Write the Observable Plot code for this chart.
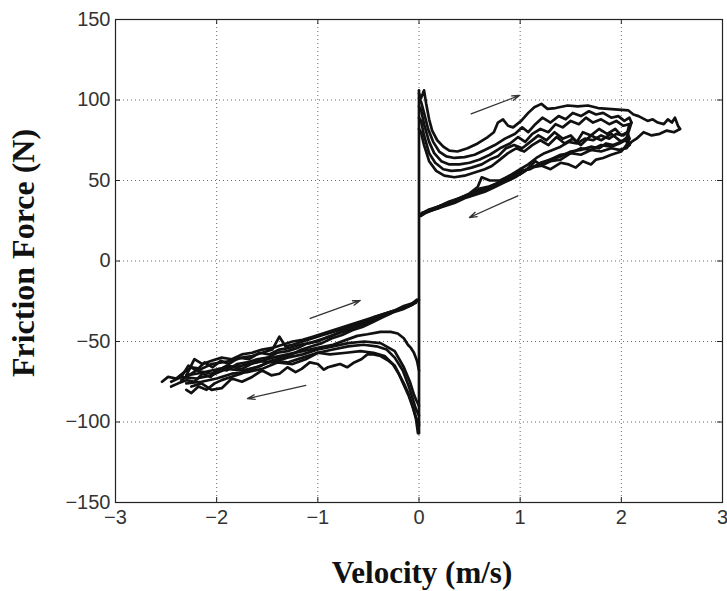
<!DOCTYPE html>
<html><head><meta charset="utf-8">
<script src="https://cdn.jsdelivr.net/npm/d3@7"></script>
<script src="https://cdn.jsdelivr.net/npm/@observablehq/plot@0.6"></script>
<style>body{margin:0;background:#fff}</style>
</head><body><div id="chart"></div>
<script>
// Tick values
const xTicks = [-3, -2, -1, 0, 1, 2, 3];
const yTicks = [-150, -100, -50, 0, 50, 100, 150];

// Stick-slip jump at zero velocity
const jumpV = [0, 0];
const jumpF = [106, -107];

// Positive velocity, accelerating branches
const up1V = [0,0.02,0.05,0.07,0.10,0.13,0.18,0.24,0.30,0.38,0.48,0.58,0.68,0.74,0.78,0.83,0.88,0.93,1.01,1.08,1.14,1.21,1.27,1.35,1.47,1.57,1.67,1.77,1.87,1.97,2.07,2.12,2.17,2.26,2.31,2.36,2.42,2.46,2.50,2.53,2.56,2.58];
const up1F = [104,101,106,98,88,81,75,71,68.5,68,70,73,77,80,86,88,84,83,87,92,95.5,97.6,94.5,95,96.6,96,96.6,95,94.5,94,93.5,91,90,87,88,86,85,88,86,89,84,82];
const up2V = [0,0.02,0.05,0.09,0.14,0.20,0.27,0.35,0.45,0.55,0.65,0.75,0.85,0.95,1.02,1.08,1.15,1.22,1.30,1.38,1.45,1.52,1.60,1.68,1.75,1.82,1.90,1.97,2.03,2.08,2.10];
const up2F = [101,99,92,82,74,68,65,64,64.5,66,69,72,76,79,83,80,85,89,86,90,88,92,90,93,91,92,89,90,87,89,86];
const up3V = [0,0.02,0.05,0.10,0.15,0.22,0.30,0.40,0.50,0.60,0.70,0.80,0.90,0.98,1.05,1.12,1.20,1.28,1.35,1.42,1.50,1.58,1.65,1.72,1.80,1.88,1.95,2.02,2.08];
const up3F = [96,94,85,74,67,62,60,60,61,63,66,70,73,77,74,79,82,80,85,83,87,85,89,86,88,85,87,84,85];
const up4V = [0,0.02,0.05,0.10,0.16,0.24,0.32,0.42,0.52,0.62,0.70,0.78,0.86,0.94,1.02,1.10,1.18,1.26,1.34,1.42,1.50,1.56,1.62,1.70,1.78,1.86,1.94,2.00,2.06,2.08];
const up4F = [89,87,78,67,61,57,56,56.5,58,60,63,65,70,72,70,74,78,75,80,76,78,74,80,78,82,79,82,78,80,76];
const up5V = [0,0.02,0.05,0.10,0.17,0.25,0.35,0.45,0.55,0.65,0.72,0.80,0.88,0.96,1.04,1.12,1.20,1.28,1.36,1.44,1.52,1.60,1.70,1.80,1.90,2.00,2.06,2.08];
const up5F = [82,80,72,62,56,53,52,53,55,57,59,63,67,70,68,72,75,72,77,73,76,72,78,75,79,74,77,72];

// Positive velocity, decelerating branches
const dn1V = [2.10,2.08,2.05,2.00,1.92,1.85,1.78,1.70,1.60,1.50,1.40,1.30,1.20,1.10,1.00,0.90,0.80,0.70,0.60,0.50,0.40,0.30,0.20,0.10,0.04,0.01];
const dn1F = [86,82,76,74,72,73,70,71,69,68,65,63,60,58,55,52,49,46,44,41,39,36,34,32,30,28];
const dn2V = [2.08,2.06,2.02,1.95,1.88,1.80,1.72,1.64,1.56,1.48,1.40,1.32,1.24,1.16,1.08,1.00,0.92,0.84,0.76,0.68,0.60,0.52,0.44,0.36,0.28,0.20,0.12,0.05,0.01];
const dn2F = [85,80,78,79,76,78,75,76,73,74,71,69,67,64,60,57,54,51,48,46,45,42,40,38,36,34,32,30,29];
const dn3V = [2.08,2.05,2.00,1.90,1.82,1.75,1.70,1.62,1.55,1.48,1.40,1.30,1.22,1.15,1.05,0.95,0.85,0.75,0.65,0.55,0.45,0.35,0.25,0.15,0.07,0.02];
const dn3F = [76,72,68,66,64,63,60,62,58,60,61,57,59,62,56,52,49,46,43,41,39,36,34,32,30,28];
const dn4V = [2.08,2.04,1.98,1.90,1.80,1.70,1.60,1.50,1.40,1.30,1.20,1.10,1.00,0.90,0.80,0.70,0.60,0.50,0.40,0.30,0.20,0.10,0.03];
const dn4F = [72,75,73,71,72,69,70,67,66,63,61,57,56,51,48,46,43,41,38,36,33,31,29];
const dn5V = [2.58,2.52,2.45,2.38,2.30,2.22,2.15,2.10,2.05,1.98,1.90,1.80,1.70,1.60,1.50,1.40,1.30,1.20,1.10,1.00,0.90,0.80,0.70,0.62,0.58,0.50,0.40,0.30,0.20,0.10,0.03];
const dn5F = [82,80,81,79,78,80,76,74,70,69,70,68,69,66,67,63,62,59,58,54,53,50,50,52,46,42,39,37,34,31,30];

// Negative velocity, accelerating branches
const lo1V = [0,-0.02,-0.05,-0.08,-0.11,-0.15,-0.21,-0.28,-0.38,-0.51,-0.61,-0.72,-0.85,-1.0,-1.15,-1.3,-1.45,-1.6,-1.75,-1.9,-2.05,-2.2,-2.3];
const lo1F = [-68,-62,-57,-54,-52,-48,-45,-44,-44,-45.5,-46.5,-49,-52,-54,-56,-58,-60,-63,-65,-66,-68,-70,-71];
const lo2V = [0,-0.03,-0.05,-0.09,-0.15,-0.24,-0.38,-0.54,-0.70,-0.85,-1.0,-1.15,-1.3,-1.45,-1.6,-1.75,-1.9,-2.05,-2.2,-2.35];
const lo2F = [-90,-86,-83,-75,-66,-56,-51,-50,-51,-53,-55,-58,-60,-63,-62,-67,-65,-70,-68,-74];
const lo3V = [0,-0.03,-0.06,-0.10,-0.16,-0.24,-0.32,-0.42,-0.55,-0.70,-0.85,-1.0,-1.15,-1.3,-1.45,-1.6,-1.75,-1.9,-2.05,-2.2,-2.35,-2.45];
const lo3F = [-96,-92,-86,-78,-68,-60,-55,-53,-52,-53,-55,-57,-60,-63,-62,-66,-68,-67,-71,-73,-72,-75];
const lo4V = [0,-0.03,-0.06,-0.10,-0.15,-0.20,-0.26,-0.34,-0.45,-0.58,-0.72,-0.88,-1.0,-1.12,-1.25,-1.4,-1.55,-1.7,-1.85,-2.0,-2.15,-2.3];
const lo4F = [-102,-97,-91,-83,-76,-70,-64,-59,-57,-56,-57,-58,-57,-61,-64,-63,-67,-69,-70,-73,-75,-76];
const lo5V = [0,-0.01,-0.03,-0.06,-0.10,-0.15,-0.20,-0.24,-0.30,-0.38,-0.45,-0.51,-0.57,-0.64,-0.71,-0.78,-0.84,-0.90,-0.94,-1.00,-1.08,-1.16,-1.22,-1.30,-1.38,-1.46,-1.55,-1.65,-1.75,-1.85,-1.95,-2.05,-2.15,-2.25];
const lo5F = [-100,-107,-98,-91,-84,-77,-70,-65,-62,-59,-58,-58,-61,-63,-66,-64,-65,-66,-67.5,-64,-63,-67,-69,-66,-70,-71,-68,-72,-75,-73,-79,-80,-76,-78];

// Negative velocity, decelerating branches
const ret1V = [-2.54,-2.48,-2.40,-2.32,-2.25,-2.15,-2.05,-1.95,-1.85,-1.75,-1.65,-1.55,-1.45,-1.38,-1.35,-1.32,-1.25,-1.15,-1.05,-0.95,-0.85,-0.75,-0.65,-0.55,-0.45,-0.35,-0.25,-0.15,-0.08,-0.02,0];
const ret1F = [-75,-72,-73,-69,-66,-67,-64,-63,-62,-60,-59,-57,-55,-47,-50,-53,-52,-50,-48,-46,-44,-42,-40,-38,-35,-33,-31,-29,-27,-25,-24];
const ret2V = [-2.45,-2.38,-2.30,-2.22,-2.14,-2.06,-1.98,-1.90,-1.80,-1.70,-1.60,-1.50,-1.40,-1.30,-1.20,-1.10,-1.00,-0.90,-0.80,-0.70,-0.60,-0.50,-0.40,-0.30,-0.20,-0.10,-0.03];
const ret2F = [-78,-76,-74,-75,-70,-72,-67,-68,-64,-63,-61,-60,-57,-56,-54,-51,-50,-47,-45,-43,-40,-38,-35,-33,-30,-28,-26];
const ret3V = [-2.35,-2.28,-2.20,-2.12,-2.04,-1.96,-1.88,-1.78,-1.68,-1.58,-1.48,-1.38,-1.28,-1.18,-1.08,-0.98,-0.88,-0.78,-0.68,-0.58,-0.48,-0.38,-0.28,-0.18,-0.08,-0.02];
const ret3F = [-72,-65,-68,-63,-66,-62,-64,-60,-61,-57,-58,-55,-54,-52,-51,-49,-47,-44,-42,-40,-37,-34,-32,-30,-27,-24];
const ret4V = [-2.3,-2.25,-2.18,-2.10,-2.02,-1.95,-1.86,-1.76,-1.66,-1.56,-1.46,-1.36,-1.26,-1.16,-1.06,-0.96,-0.86,-0.76,-0.66,-0.56,-0.46,-0.36,-0.26,-0.16,-0.06];
const ret4F = [-80,-82,-78,-80,-76,-74,-72,-70,-67,-65,-62,-60,-58,-55,-53,-51,-48,-46,-43,-41,-38,-35,-32,-30,-27];
const ret5V = [-2.3,-2.22,-2.14,-2.05,-1.95,-1.85,-1.75,-1.65,-1.55,-1.45,-1.35,-1.25,-1.15,-1.05,-0.95,-0.85,-0.75,-0.65,-0.55,-0.45,-0.35,-0.25,-0.15,-0.05];
const ret5F = [-71,-61,-64,-62,-60,-61,-58,-57,-55,-54,-52,-50,-49,-47,-45,-43,-41,-39,-37,-35,-33,-31,-28,-26];

// Direction arrows (start and end)
const arrowV1 = [0.515, 0.977, -1.076, -1.119];
const arrowF1 = [91.4, 40.5, -35.7, -77.3];
const arrowV2 = [0.993, 0.498, -0.581, -1.696];
const arrowF2 = [102.8, 27, -24.5, -85.5];

const series = [
  ["jump", jumpV, jumpF],
  ["up1", up1V, up1F], ["up2", up2V, up2F], ["up3", up3V, up3F], ["up4", up4V, up4F], ["up5", up5V, up5F],
  ["dn1", dn1V, dn1F], ["dn2", dn2V, dn2F], ["dn3", dn3V, dn3F], ["dn4", dn4V, dn4F], ["dn5", dn5V, dn5F],
  ["lo1", lo1V, lo1F], ["lo2", lo2V, lo2F], ["lo3", lo3V, lo3F], ["lo4", lo4V, lo4F], ["lo5", lo5V, lo5F],
  ["ret1", ret1V, ret1F], ["ret2", ret2V, ret2F], ["ret3", ret3V, ret3F], ["ret4", ret4V, ret4F], ["ret5", ret5V, ret5F]
];
const rows = series.flatMap(([name, vs, fs]) => vs.map((v, i) => ({s: name, v, f: fs[i]})));
const arrows = arrowV1.map((d, i) => ({x1: d, y1: arrowF1[i], x2: arrowV2[i], y2: arrowF2[i]}));

const W = 727, H = 591, mL = 115, mR = 5, mT = 19, mB = 89;
const tlY = 300 * 5 / (H - mT - mB);
const tlX = 6 * 5 / (W - mL - mR);
const serif = "'Liberation Serif', 'Times New Roman', serif";

const chart = Plot.plot({
  width: W, height: H,
  marginLeft: mL, marginRight: mR, marginTop: mT, marginBottom: mB,
  style: {background: "#fff", fontFamily: "'Liberation Sans', Arial, sans-serif", overflow: "visible"},
  x: {domain: [-3, 3]},
  y: {domain: [-150, 150]},
  marks: [
    Plot.ruleX(xTicks.slice(1, -1), {x: d => d, stroke: "#666", strokeWidth: 1, strokeDasharray: "1,3"}),
    Plot.ruleY(yTicks.slice(1, -1), {y: d => d, stroke: "#666", strokeWidth: 1, strokeDasharray: "1,3"}),
    Plot.line(rows, {x: "v", y: "f", z: "s", stroke: "#111", strokeWidth: 2.7, strokeLinejoin: "round"}),
    Plot.arrow(arrows, {x1: "x1", y1: "y1", x2: "x2", y2: "y2", stroke: "#333", strokeWidth: 1.3, headLength: 9, headAngle: 35}),
    Plot.frame({stroke: "#222", strokeWidth: 1.2}),
    Plot.ruleX(xTicks, {x: d => d, y1: -150, y2: -150 + tlY, stroke: "#222"}),
    Plot.ruleX(xTicks, {x: d => d, y1: 150, y2: 150 - tlY, stroke: "#222"}),
    Plot.ruleY(yTicks, {y: d => d, x1: -3, x2: -3 + tlX, stroke: "#222"}),
    Plot.ruleY(yTicks, {y: d => d, x1: 3, x2: 3 - tlX, stroke: "#222"}),
    Plot.axisX(xTicks, {tickSize: 0, tickPadding: 7, fontSize: 20, fill: "#333", label: null}),
    Plot.axisY(yTicks, {tickSize: 0, tickPadding: 5, fontSize: 20, fill: "#333", label: null}),
    Plot.text(["Velocity (m/s)"], {text: d => d, frameAnchor: "bottom", textAnchor: "middle", dx: 3, dy: 80, lineAnchor: "bottom",
      fontSize: 31, fontWeight: "bold", fontFamily: serif, fill: "#111"}),
    Plot.text(["Friction Force (N)"], {text: d => d, frameAnchor: "left", textAnchor: "middle", dx: -82, dy: -8, rotate: -90, lineAnchor: "bottom",
      fontSize: 32, fontWeight: "bold", fontFamily: serif, fill: "#111"})
  ]
});
document.getElementById("chart").appendChild(chart);
</script>
</body></html>
